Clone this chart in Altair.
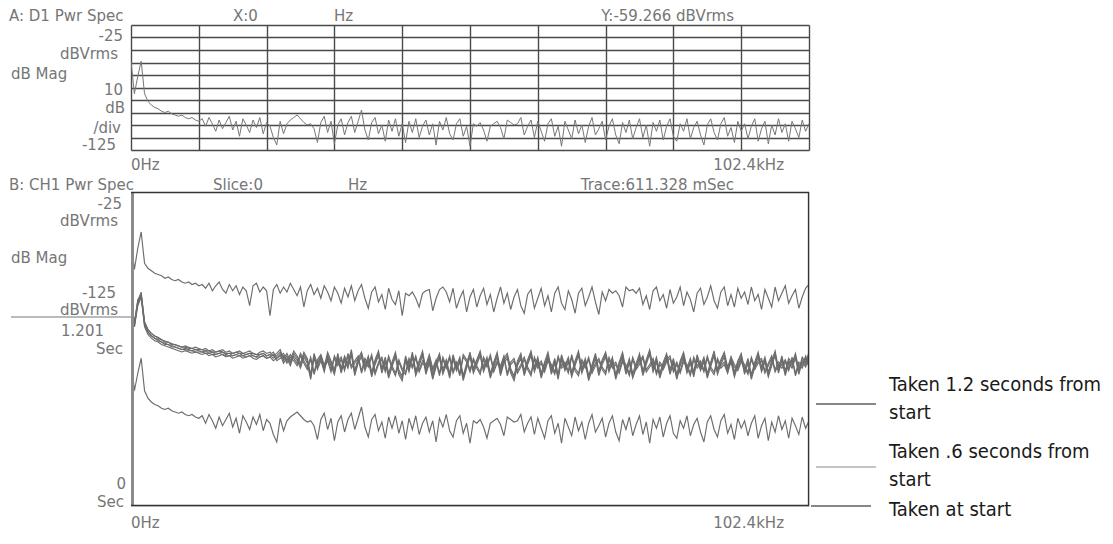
import altair as alt
import pandas as pd

# ---------------- data ----------------
F_STEP_KHZ = 0.512          # frequency bin spacing, 0 .. 102.4 kHz
SPAN_KHZ = 102.4

# spectrum taken at start (also shown in panel A), dBVrms
start_db = [
    -54, -80, -66, -54, -80, -86, -89, -91, -92, -94, -95, -94, -96, -97, -98, -97, -99, -100, -99, -101, -102,
    -100, -106, -99, -104, -110, -101, -108, -103, -98, -109, -102, -114, -100, -105, -111, -101, -107, -99, -112, -103,
    -106, -115, -121, -102, -112, -104, -101, -99, -97, -100, -103, -105, -104, -108, -119, -103, -98, -111, -102, -120,
    -105, -100, -113, -103, -98, -111, -102, -93, -109, -117, -103, -99, -112, -105, -118, -101, -110, -100, -114, -104,
    -119, -102, -111, -100, -115, -106, -101, -113, -104, -121, -102, -109, -99, -112, -117, -104, -100, -114, -106, -122,
    -104, -106, -103, -109, -118, -106, -104, -102, -107, -116, -101, -103, -105, -104, -99, -113, -106, -101, -115, -102,
    -110, -118, -104, -100, -114, -106, -122, -102, -109, -116, -101, -112, -105, -119, -106, -99, -113, -108, -102, -117,
    -106, -100, -113, -120, -103, -111, -101, -116, -107, -100, -115, -105, -122, -103, -110, -101, -117, -106, -100, -114,
    -118, -104, -110, -100, -116, -107, -102, -113, -121, -105, -100, -111, -117, -104, -99, -114, -107, -119, -102, -110,
    -104, -116, -106, -100, -118, -108, -102, -120, -105, -113, -100, -111, -104, -118, -102, -108, -115, -101, -110, -104,
]

# spectra taken about .6 seconds from start (overlapping bundle), dBVrms
mid_a_db = [
    -62, -79, -62, -55, -79, -85, -88, -90, -91, -93, -94, -95, -96, -97, -98, -99, -98, -99, -100, -99, -100,
    -101, -100, -102, -101, -103, -102, -101, -103, -102, -104, -103, -102, -104, -103, -102, -104, -105, -103, -102, -104,
    -103, -106, -104, -101, -108, -104, -110, -102, -106, -112, -103, -108, -121, -104, -113, -106, -115, -103, -110, -117,
    -104, -116, -106, -112, -101, -118, -108, -103, -114, -106, -119, -109, -102, -116, -107, -120, -111, -103, -117, -122,
    -106, -115, -103, -118, -110, -102, -117, -108, -121, -111, -104, -117, -109, -120, -105, -114, -107, -122, -112, -103,
    -116, -109, -102, -115, -107, -120, -111, -103, -118, -108, -104, -116, -122, -110, -104, -118, -109, -102, -115, -107,
    -120, -111, -103, -117, -108, -121, -105, -114, -107, -119, -110, -102, -116, -108, -122, -113, -104, -118, -109, -103,
    -115, -107, -121, -111, -103, -117, -108, -120, -112, -104, -118, -109, -101, -115, -107, -120, -111, -104, -117, -108,
    -121, -110, -103, -116, -108, -119, -105, -114, -107, -120, -111, -102, -117, -109, -103, -115, -107, -119, -110, -104,
    -117, -108, -121, -111, -103, -115, -107, -119, -110, -102, -116, -106, -118, -108, -112, -104, -117, -107, -111, -103,
]
mid_b_db = [
    -60, -80, -60, -56, -78, -84, -87, -89, -91, -92, -94, -94, -96, -96, -97, -98, -98, -99, -99, -100, -100,
    -100, -101, -101, -102, -102, -101, -102, -103, -103, -103, -102, -103, -103, -104, -103, -103, -104, -104, -103, -105,
    -104, -102, -107, -105, -103, -109, -104, -107, -111, -103, -109, -114, -106, -118, -108, -104, -112, -107, -116, -105,
    -111, -106, -115, -103, -113, -109, -105, -117, -107, -112, -104, -118, -110, -106, -116, -105, -113, -119, -108, -115,
    -118, -107, -113, -105, -116, -109, -112, -104, -115, -108, -119, -106, -113, -105, -117, -110, -119, -104, -108, -116,
    -107, -113, -118, -106, -112, -104, -116, -109, -113, -105, -119, -110, -107, -117, -112, -106, -114, -119, -106, -113,
    -109, -116, -107, -112, -118, -105, -113, -110, -117, -104, -115, -119, -108, -113, -106, -117, -111, -107, -114, -118,
    -106, -113, -110, -117, -108, -112, -119, -106, -114, -110, -105, -116, -112, -107, -118, -110, -114, -108, -105, -116,
    -110, -117, -108, -112, -119, -106, -113, -109, -116, -105, -114, -118, -107, -113, -110, -117, -106, -112, -115, -108,
    -112, -118, -106, -114, -109, -107, -117, -111, -105, -116, -110, -113, -108, -115, -106, -119, -110, -113, -105, -112,
]

# spectrum taken 1.2 seconds from start, dBVrms
late_db = [
    -64, -87, -70, -57, -82, -86, -88, -90, -91, -92, -94, -93, -95, -96, -95, -97, -98, -97, -99, -98, -100,
    -99, -102, -98, -104, -100, -97, -103, -106, -99, -104, -100, -107, -101, -104, -116, -100, -98, -105, -101, -104,
    -124, -103, -99, -106, -101, -105, -98, -103, -108, -101, -117, -104, -99, -107, -102, -110, -100, -105, -112, -101,
    -106, -114, -102, -109, -100, -112, -104, -99, -110, -118, -105, -101, -113, -107, -119, -102, -111, -115, -104, -124,
    -106, -108, -105, -110, -117, -106, -104, -103, -120, -110, -103, -101, -105, -113, -102, -118, -110, -104, -121, -109,
    -103, -117, -108, -102, -115, -107, -121, -110, -101, -114, -106, -119, -109, -103, -116, -122, -107, -103, -118, -110,
    -102, -116, -108, -121, -106, -101, -114, -119, -104, -111, -122, -106, -102, -116, -109, -101, -113, -123, -105, -112,
    -103, -106, -104, -108, -117, -101, -104, -103, -106, -102, -115, -108, -119, -104, -101, -112, -107, -118, -103, -114,
    -109, -101, -116, -105, -111, -121, -106, -102, -115, -109, -100, -112, -118, -105, -101, -116, -107, -117, -102, -110,
    -105, -115, -101, -112, -107, -119, -103, -110, -117, -101, -112, -106, -100, -114, -108, -103, -118, -109, -102, -99,
]

# waterfall slices: which spectrum, and when it was taken (seconds)
slice_names = ["start", "mid1", "mid2", "mid3", "mid4", "mid5", "late"]
slice_spectra = ["start", "mid_a", "mid_b", "mid_a", "mid_b", "mid_a", "late"]
slice_times = [0.0, 0.578, 0.589, 0.600, 0.611, 0.622, 1.201]

header_a = ["A: D1 Pwr Spec", "X:0", "Hz", "Y:-59.266 dBVrms"]
header_b = ["B: CH1 Pwr Spec", "Slice:0", "Hz", "Trace:611.328 mSec"]
freq_labels = ["0Hz", "102.4kHz"]
legend_lines = [["Taken 1.2 seconds from", "start"], ["Taken .6 seconds from", "start"], ["Taken at start"]]

spectra = {"start": start_db, "mid_a": mid_a_db, "mid_b": mid_b_db, "late": late_db}

# ---------------- tables ----------------
top_df = pd.DataFrame({"f": [i * F_STEP_KHZ for i in range(len(start_db))], "db": start_db})

rows = []
for name, spec, t in zip(slice_names, slice_spectra, slice_times):
    vals = spectra[spec]
    for i, v in enumerate(vals):
        rows.append({"slice": name, "f": i * F_STEP_KHZ, "db": v, "t": t})
bot_df = pd.DataFrame(rows)
one = pd.DataFrame({"k": [0]})

# ---------------- styles ----------------
INSTR_FONT = "DejaVu Sans"
TXT = "#767676"
TRACE = "#6c6c6c"
GRID = "#4a4a4a"
FRAME = "#333333"
W = 678
H_TOP = 125
H_BOT = 314
DB_PER_SEC = 86.6   # waterfall vertical offset per second of slice time


def txt(s, x, y, align="left", size=15, color=TXT, font=INSTR_FONT, baseline="middle"):
    return alt.Chart(one).mark_text(
        text=s, align=align, baseline=baseline, fontSize=size, font=font, color=color
    ).encode(x=alt.value(x), y=alt.value(y))


def rule(x1, x2, y, color="#222", width=1.2):
    return alt.Chart(one).mark_rule(color=color, strokeWidth=width).encode(
        x=alt.value(x1), x2=alt.value(x2), y=alt.value(y)
    )


def vrule(x, y1, y2, color=FRAME, width=1.3):
    return alt.Chart(one).mark_rule(color=color, strokeWidth=width).encode(
        x=alt.value(x), y=alt.value(y1), y2=alt.value(y2)
    )


grid_x = [round(i * SPAN_KHZ / 10, 3) for i in range(11)]
grid_y = [-25 - 10 * i for i in range(11)]

# ---------------- panel A ----------------
x_top = alt.X(
    "f:Q",
    scale=alt.Scale(domain=[0, SPAN_KHZ], nice=False, zero=False),
    axis=alt.Axis(values=grid_x, grid=True, labels=False, ticks=False, domain=False, title=None,
                  gridColor=GRID, gridWidth=1.4, gridOpacity=1),
)
y_top = alt.Y(
    "db:Q",
    scale=alt.Scale(domain=[-125, -25], nice=False, zero=False),
    axis=alt.Axis(values=grid_y, grid=True, labels=False, ticks=False, domain=False, title=None,
                  gridColor=GRID, gridWidth=1.4, gridOpacity=1),
)
trace_top = alt.Chart(top_df).mark_line(color="#777777", strokeWidth=1, clip=True).encode(x=x_top, y=y_top)

top_layers = [
    trace_top,
    txt(header_a[0], -122, -9),
    txt(header_a[1], 102, -9),
    txt(header_a[2], 203, -9),
    txt(header_a[3], 603, -9, align="right"),
    txt("-25", -8, 11, align="right"),
    txt("dBVrms", -13, 29, align="right"),
    txt("dB Mag", -120, 49),
    txt("10", -8, 65, align="right"),
    txt("dB", -6, 83, align="right"),
    txt("/div", -10, 103, align="right"),
    txt("-125", -15, 120, align="right"),
    txt(freq_labels[0], 0, 140),
    txt(freq_labels[1], 653, 140, align="right"),
]
top = alt.layer(*top_layers).properties(width=W, height=H_TOP)

# ---------------- panel B (waterfall) ----------------
x_bot = alt.X("f:Q", scale=alt.Scale(domain=[0, SPAN_KHZ], nice=False, zero=False), axis=None)
y_bot = alt.Y("v:Q", scale=alt.Scale(domain=[-172.2, 79], nice=False, zero=False), axis=None)
traces_bot = (
    alt.Chart(bot_df)
    .transform_calculate(v=f"datum.db + datum.t * {DB_PER_SEC}")
    .mark_line(color=TRACE, strokeWidth=1.15, clip=True)
    .encode(x=x_bot, y=y_bot, detail="slice:N", order="f:Q")
)

left_bar = alt.Chart(one).mark_rule(color="#8c8c8c", strokeWidth=3).encode(
    x=alt.value(1.5), y=alt.value(0), y2=alt.value(H_BOT)
)

bot_layers = [
    traces_bot,
    left_bar,
    # frame
    rule(0, W, 0.5, color=FRAME, width=1.3),
    rule(0, W, H_BOT - 0.5, color=FRAME, width=1.3),
    vrule(W - 0.5, 0, H_BOT),
    rule(-120, 0, 125, color="#777", width=1.2),
    txt(header_b[0], -122, -7),
    txt(header_b[1], 82, -7),
    txt(header_b[2], 217, -7),
    txt(header_b[3], 603, -7, align="right"),
    txt("-25", -9, 12, align="right"),
    txt("dBVrms", -13, 29, align="right"),
    txt("dB Mag", -120, 66),
    txt("-125", -15, 101, align="right"),
    txt("dBVrms", -13, 118, align="right"),
    txt("1.201", -27, 139, align="right"),
    txt("Sec", -8, 157, align="right"),
    txt("0", -5, 292, align="right"),
    txt("Sec", -7, 310, align="right"),
    txt(freq_labels[0], 0, 331),
    txt(freq_labels[1], 653, 331, align="right"),
    # legend
    rule(685, 745, 212, color="#111111"),
    rule(685, 745, 275, color="#8a8a8a"),
    rule(680, 740, 314, color="#111111"),
]
LEG_FONT = "Liberation Sans Narrow, DejaVu Sans Condensed, Roboto, sans-serif"
leg_y = [[199, 227], [266, 294], [324]]
for lines, ys in zip(legend_lines, leg_y):
    for s, yy in zip(lines, ys):
        bot_layers.append(txt(s, 758, yy, size=20, color="#1a1a1a", font=LEG_FONT, baseline="alphabetic"))

bottom = alt.layer(*bot_layers).properties(width=W, height=H_BOT)

chart = (
    alt.vconcat(top, bottom, spacing=42, bounds="flush")
    .properties(padding=0)
    .configure_view(stroke="#3c3c3c", strokeWidth=1.3)
    .configure(background="white")
)

chart.save("out.html", embed_options={"renderer": "svg", "actions": False})
